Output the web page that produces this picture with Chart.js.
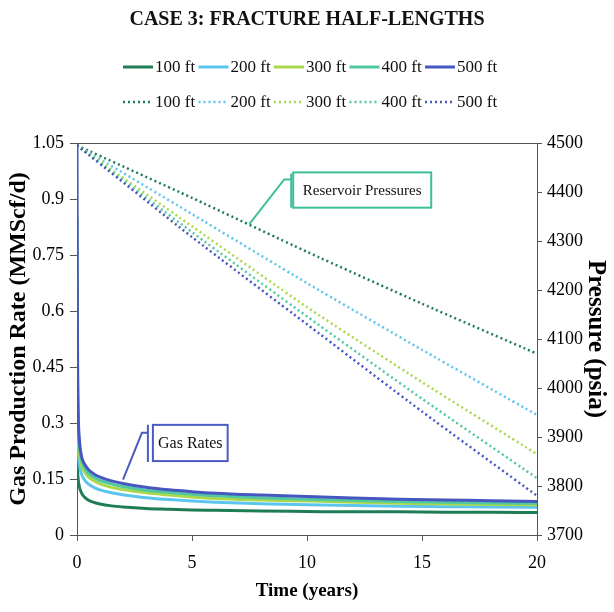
<!DOCTYPE html>
<html>
<head>
<meta charset="utf-8">
<script src="https://cdn.jsdelivr.net/npm/chart.js@4.4.1/dist/chart.umd.min.js"></script>
<style>
  html, body { margin: 0; padding: 0; background: #fff; }
  #wrap { width: 614px; height: 612px; }
</style>
</head>
<body>
<div id="wrap"><canvas id="chart"></canvas></div>
<script>
const halfLengths = ["100 ft", "200 ft", "300 ft", "400 ft", "500 ft"];
const lineColors = ["#1f7d56", "#5cc5ee", "#a9d84c", "#50c8a0", "#4657bf"];

// gas rate (MMScf/d) vs time (years)
const rateTimes = [0, 0.02, 0.05, 0.1, 0.2, 0.3, 0.5, 0.75, 1, 1.5, 2, 3, 4, 5, 6, 8, 10, 12, 14, 16, 18, 20];
const rate100 = [0.25, 0.18, 0.15, 0.13, 0.112, 0.103, 0.093, 0.087, 0.083, 0.078, 0.075, 0.071, 0.069, 0.067, 0.066, 0.064, 0.063, 0.062, 0.062, 0.061, 0.061, 0.060];
const rate200 = [0.45, 0.30, 0.23, 0.19, 0.163, 0.150, 0.136, 0.127, 0.121, 0.113, 0.108, 0.100, 0.095, 0.091, 0.088, 0.084, 0.081, 0.079, 0.077, 0.076, 0.075, 0.074];
const rate300 = [0.65, 0.38, 0.27, 0.22, 0.185, 0.172, 0.155, 0.145, 0.137, 0.128, 0.122, 0.113, 0.107, 0.102, 0.098, 0.094, 0.091, 0.088, 0.085, 0.083, 0.082, 0.081];
const rate400 = [0.85, 0.45, 0.30, 0.24, 0.20, 0.183, 0.165, 0.154, 0.146, 0.137, 0.130, 0.120, 0.114, 0.109, 0.105, 0.100, 0.096, 0.093, 0.090, 0.088, 0.086, 0.085];
const rate500 = [1.05, 0.55, 0.34, 0.26, 0.21, 0.193, 0.175, 0.163, 0.155, 0.145, 0.138, 0.128, 0.121, 0.116, 0.112, 0.107, 0.103, 0.099, 0.096, 0.094, 0.092, 0.090];

// reservoir pressure (psia) vs time (years)
const pressureTimes = [0, 5, 10, 15, 20];
const pressure100 = [4495, 4388, 4278, 4172, 4070];
const pressure200 = [4495, 4355, 4214, 4078, 3945];
const pressure300 = [4495, 4330, 4165, 4012, 3865];
const pressure400 = [4495, 4318, 4146, 3978, 3816];
const pressure500 = [4495, 4308, 4130, 3952, 3780];

const rateSeries = [rate100, rate200, rate300, rate400, rate500];
const pressureSeries = [pressure100, pressure200, pressure300, pressure400, pressure500];

const serif = "'Liberation Serif', 'Times New Roman', serif";

function toPoints(xs, ys) {
  return xs.map((x, i) => ({ x: x, y: ys[i] }));
}

const datasets = [];
rateSeries.forEach((vals, i) => {
  datasets.push({
    label: halfLengths[i],
    data: toPoints(rateTimes, vals),
    borderColor: lineColors[i],
    borderWidth: 3,
    pointRadius: 0,
    cubicInterpolationMode: 'monotone',
    yAxisID: 'y',
    order: 5 - i
  });
});
pressureSeries.forEach((vals, i) => {
  datasets.push({
    label: halfLengths[i],
    data: toPoints(pressureTimes, vals),
    borderColor: lineColors[i],
    borderWidth: 2.5,
    borderDash: [2, 3],
    pointRadius: 0,
    tension: 0.2,
    yAxisID: 'y2',
    order: 10 - i
  });
});

// legend in two rows + callout boxes + top frame line
const extras = {
  id: 'extras',
  afterDraw(chart) {
    const ctx = chart.ctx;
    const area = chart.chartArea;
    const xs = chart.scales.x, y1 = chart.scales.y, y2 = chart.scales.y2;
    ctx.save();

    ctx.strokeStyle = '#555';
    ctx.lineWidth = 1;
    ctx.beginPath();
    ctx.moveTo(area.left, area.top + 0.5);
    ctx.lineTo(area.right, area.top + 0.5);
    ctx.stroke();

    ctx.font = "17px " + serif;
    ctx.textBaseline = 'middle';
    ctx.fillStyle = '#111';
    const rows = [67, 102];
    rows.forEach((ry, r) => {
      let x = 123;
      halfLengths.forEach((lab, i) => {
        ctx.strokeStyle = lineColors[i];
        ctx.lineWidth = r === 0 ? 3 : 2.5;
        ctx.setLineDash(r === 0 ? [] : [2, 3]);
        ctx.beginPath();
        ctx.moveTo(x, ry);
        ctx.lineTo(x + 30, ry);
        ctx.stroke();
        ctx.setLineDash([]);
        ctx.fillText(lab, x + 32, ry + 1);
        x += 75.5;
      });
    });

    // Reservoir Pressures callout
    ctx.strokeStyle = '#3dbf9a';
    ctx.lineWidth = 2;
    let bl = xs.getPixelForValue(9.4), br = xs.getPixelForValue(15.4);
    let bt = y2.getPixelForValue(4440), bb = y2.getPixelForValue(4368);
    ctx.strokeRect(bl, bt, br - bl, bb - bt);
    ctx.fillStyle = '#111';
    ctx.font = "15px " + serif;
    ctx.textAlign = 'center';
    ctx.fillText('Reservoir Pressures', (bl + br) / 2, (bt + bb) / 2 + 1);
    ctx.beginPath();
    ctx.moveTo(bl - 2, bt + 1);
    ctx.lineTo(bl - 2, bb);
    ctx.moveTo(bl - 2, bt + 7);
    ctx.lineTo(bl - 9, bt + 7);
    ctx.lineTo(xs.getPixelForValue(7.5), y2.getPixelForValue(4335));
    ctx.stroke();

    // Gas Rates callout
    ctx.strokeStyle = '#4a5cc2';
    bl = xs.getPixelForValue(3.3); br = xs.getPixelForValue(6.55);
    bt = y1.getPixelForValue(0.295); bb = y1.getPixelForValue(0.198);
    ctx.strokeRect(bl, bt, br - bl, bb - bt);
    ctx.font = "16px " + serif;
    ctx.fillText('Gas Rates', (bl + br) / 2, (bt + bb) / 2 + 1);
    ctx.beginPath();
    ctx.moveTo(bl - 5, bt);
    ctx.lineTo(bl - 5, bb + 1);
    ctx.moveTo(bl - 5, bt + 8);
    ctx.lineTo(bl - 11, bt + 8);
    ctx.lineTo(xs.getPixelForValue(2.0), y1.getPixelForValue(0.148));
    ctx.stroke();

    ctx.restore();
  }
};

const tickFont = { family: serif, size: 18 };

new Chart(document.getElementById('chart'), {
  type: 'line',
  data: { datasets: datasets },
  options: {
    responsive: true,
    maintainAspectRatio: false,
    animation: false,
    layout: { padding: 0 },
    plugins: {
      legend: { display: false },
      tooltip: { enabled: false },
      title: {
        display: true,
        text: 'CASE 3: FRACTURE HALF-LENGTHS',
        color: '#111',
        font: { family: serif, size: 20, weight: 'bold' },
        padding: { top: 8, bottom: 111 }
      }
    },
    scales: {
      x: {
        type: 'linear',
        min: 0, max: 20,
        afterFit: s => { s.height = 77; },
        ticks: { stepSize: 5, color: '#000', font: tickFont, padding: 11 },
        grid: { drawOnChartArea: false, tickLength: 6, color: '#555' },
        border: { color: '#555', width: 1 },
        title: { display: true, text: 'Time (years)', color: '#000', font: { family: serif, size: 19, weight: 'bold' }, padding: { top: 2, bottom: 10 } }
      },
      y: {
        position: 'left',
        min: 0, max: 1.05,
        afterFit: s => { s.width = 77; },
        ticks: { stepSize: 0.15, color: '#000', font: tickFont, padding: 6, callback: v => String(Math.round(v * 100) / 100) },
        grid: { drawOnChartArea: false, tickLength: 7, color: '#555' },
        border: { color: '#555', width: 1 },
        title: { display: true, text: 'Gas Production Rate (MMScf/d)', color: '#000', font: { family: serif, size: 24, weight: 'bold' }, padding: { top: 4 } }
      },
      y2: {
        position: 'right',
        min: 3700, max: 4500,
        afterFit: s => { s.width = 77; },
        ticks: { stepSize: 100, color: '#000', font: tickFont, padding: 5, callback: v => String(v) },
        grid: { drawOnChartArea: false, tickLength: 5, color: '#555' },
        border: { color: '#555', width: 1 },
        title: { display: true, text: 'Pressure (psia)', color: '#000', font: { family: serif, size: 25, weight: 'bold' }, padding: { top: 4 } }
      }
    }
  },
  plugins: [extras]
});
</script>
</body>
</html>
